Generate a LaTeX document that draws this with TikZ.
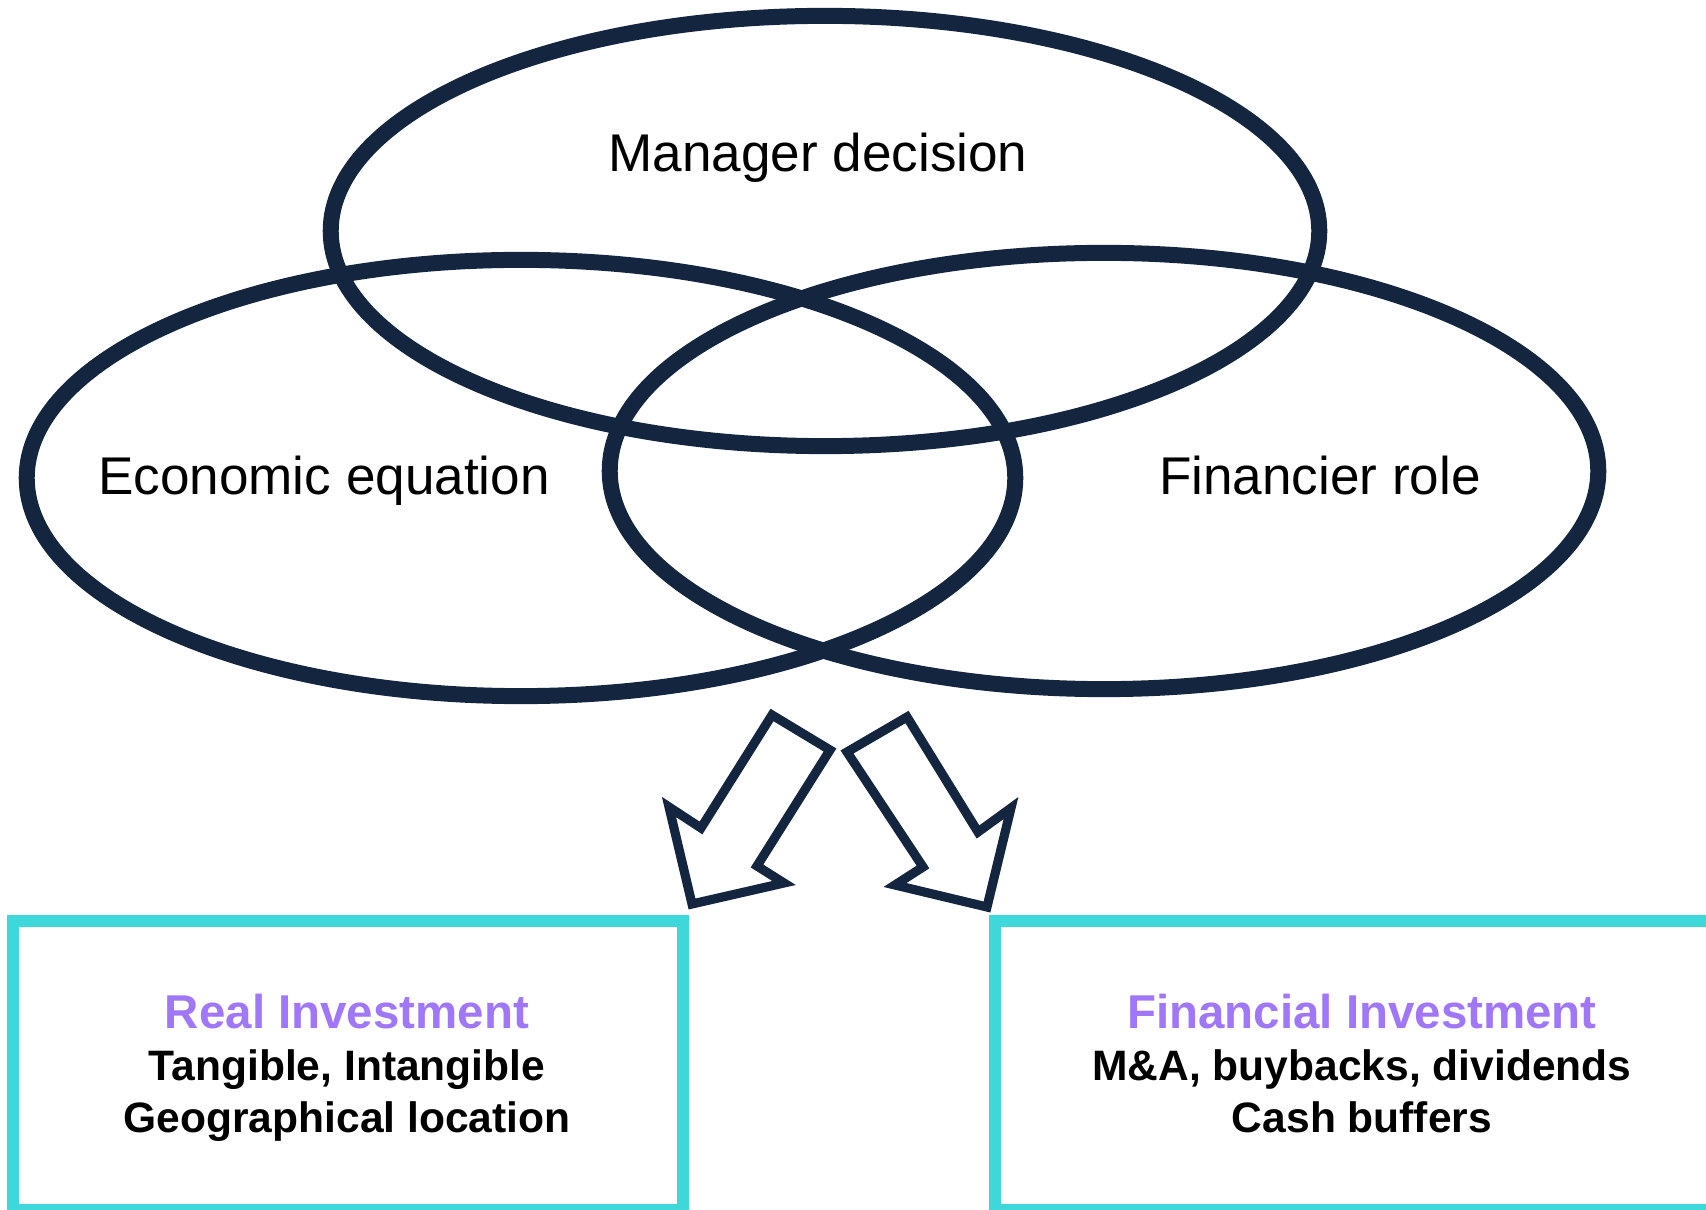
\documentclass[tikz,border=0pt]{standalone}
\usepackage{fontspec}
\setmainfont{Liberation Sans}
\definecolor{navy}{HTML}{14263F}
\definecolor{cyanbox}{HTML}{3FD8DA}
\definecolor{purp}{HTML}{A077F8}
\begin{document}
\begin{tikzpicture}[x=0.01cm,y=-0.01cm,
  ring/.style={draw=navy,line width=4.55pt},
  ringlabel/.style={anchor=base,inner sep=0pt,font=\fontsize{15.1}{18}\selectfont,text=black},
  invbox/.style={draw=cyanbox,line width=3.4pt,inner sep=0pt,minimum height=2.89cm},
  boxtext/.style={anchor=base,inner sep=0pt,align=center,font=\fontsize{12.1}{14.7}\selectfont\bfseries,text=black},
  blockarrow/.style={draw=navy,line width=2.6pt,line join=miter,fill=white}]
\useasboundingbox (0,0) rectangle (1706,1210);
\clip (0,0) rectangle (1706,1210);
% ellipses
\coordinate (cTop) at (825,231);
\coordinate (cLeft) at (521,478);
\coordinate (cRight) at (1104,471);
\draw[ring] (cTop) ellipse [x radius=4.94cm, y radius=2.15cm];
\draw[ring] (cLeft) ellipse [x radius=4.94cm, y radius=2.18cm];
\draw[ring] (cRight) ellipse [x radius=4.94cm, y radius=2.18cm];
% ellipse labels
\node[ringlabel] (mgr) at (818,172) {Manager decision};
\node[ringlabel] (eco) at (324,495) {Economic equation};
\node[ringlabel] (fin) at (1320,495) {Financier role};
% block arrows
\draw[blockarrow] (772,715) -- (830,750) -- (757,866) -- (784,883) -- (692,904) -- (669,807) -- (701,828) -- cycle;
\draw[blockarrow] (847,752) -- (907,717) -- (978,832) -- (1011,808) -- (987,907) -- (895,885) -- (923,867) -- cycle;
% boxes
\node[invbox,minimum width=6.70cm] (realbox) at (348,1065.5) {};
\node[invbox,minimum width=7.34cm] (finbox) at (1362,1065.5) {};
\node[boxtext] (realtxt) at (347,1132) {{\fontsize{13.5}{14.7}\selectfont\color{purp}Real Investment}\\Tangible, Intangible\\Geographical location};
\node[boxtext] (fintxt) at (1362,1132) {{\fontsize{13.5}{14.7}\selectfont\color{purp}Financial Investment}\\M\&A, buybacks, dividends\\Cash buffers};
\end{tikzpicture}
\end{document}
